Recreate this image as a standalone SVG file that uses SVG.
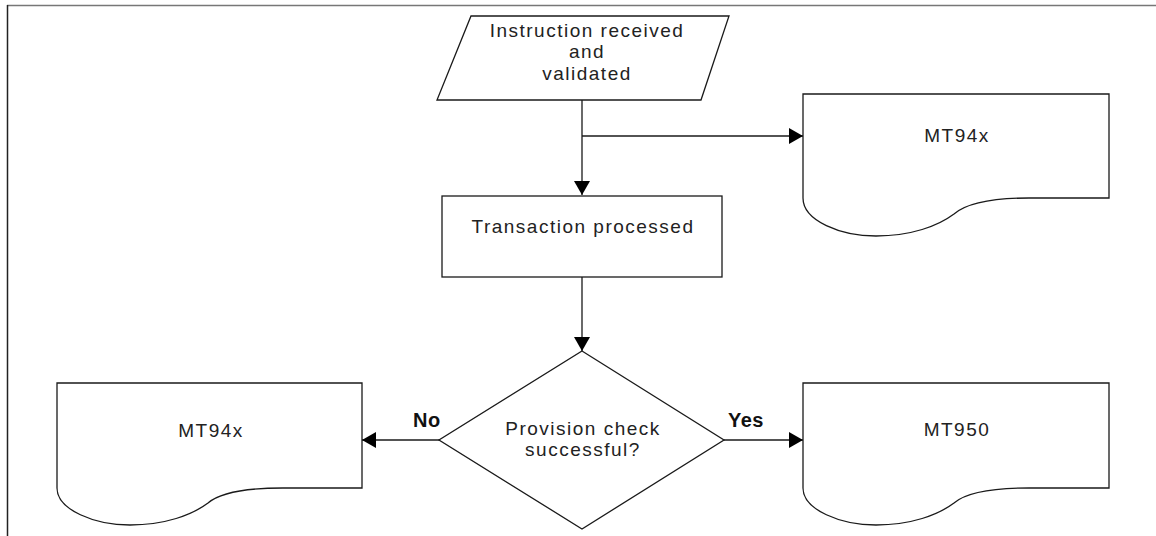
<svg xmlns="http://www.w3.org/2000/svg" width="1156" height="536" viewBox="0 0 1156 536">
<style>
.shape{fill:#fff;stroke:#1a1a1a;stroke-width:1.3}
.conn{fill:none;stroke:#1a1a1a;stroke-width:1.3}
.t{font-family:"Liberation Sans",Arial,sans-serif;font-size:19px;letter-spacing:1.5px;fill:#222;text-anchor:middle}
.lbl{font-family:"Liberation Sans",Arial,sans-serif;font-size:20px;font-weight:bold;fill:#111;letter-spacing:0.5px}
</style>
<defs>
<marker id="arr" viewBox="0 0 14 16" refX="14" refY="8" markerWidth="14" markerHeight="16" markerUnits="userSpaceOnUse" orient="auto">
<path d="M0,0 L14,8 L0,16 Z" fill="#000"/>
</marker>
</defs>
<g id="frame">
<line x1="7" y1="5.5" x2="1156" y2="5.5" stroke="#777" stroke-width="1.5"/>
<line x1="7.5" y1="5" x2="7.5" y2="536" stroke="#222" stroke-width="1.5"/>
</g>
<g id="connectors">
<line class="conn" x1="582" y1="100" x2="582" y2="195" marker-end="url(#arr)"/>
<line class="conn" x1="582" y1="136" x2="803" y2="136" marker-end="url(#arr)"/>
<line class="conn" x1="582" y1="277" x2="582" y2="351" marker-end="url(#arr)"/>
<line class="conn" x1="439" y1="440" x2="362" y2="440" marker-end="url(#arr)"/>
<line class="conn" x1="724" y1="440" x2="803" y2="440" marker-end="url(#arr)"/>
</g>
<g id="instruction">
<polygon class="shape" points="471,16 729,16 701,100 437,100"/>
<text class="t" x="587" y="37">Instruction received</text>
<text class="t" x="587" y="58">and</text>
<text class="t" x="587" y="80">validated</text>
</g>
<g id="transaction">
<rect class="shape" x="442" y="196" width="280" height="81"/>
<text class="t" x="583" y="233">Transaction processed</text>
</g>
<g id="mt94x-top" transform="translate(803,94)">
<path class="shape" d="M0,0 H306 V104 H226 C193,104 165,108 151,120 C135,132 108,142 73,142 C38,142 0,127 0,104 Z"/>
<text class="t" x="154" y="48">MT94x</text>
</g>
<g id="decision">
<polygon class="shape" points="582,351 724,440 582,529 439,440"/>
<text class="t" x="583" y="435">Provision check</text>
<text class="t" x="583" y="456">successful?</text>
</g>
<g id="mt94x-left" transform="translate(57,383)">
<path class="shape" d="M0,0 H305 V105 H226 C193,105 165,108 151,120 C135,132 108,142 73,142 C38,142 0,127 0,105 Z"/>
<text class="t" x="154" y="54">MT94x</text>
</g>
<g id="mt950" transform="translate(803,383)">
<path class="shape" d="M0,0 H306 V105 H226 C193,105 165,108 151,120 C135,132 108,142 73,142 C38,142 0,127 0,105 Z"/>
<text class="t" x="154" y="53">MT950</text>
</g>
<g id="labels">
<text class="lbl" x="413" y="427">No</text>
<text class="lbl" x="728" y="427">Yes</text>
</g>
</svg>
